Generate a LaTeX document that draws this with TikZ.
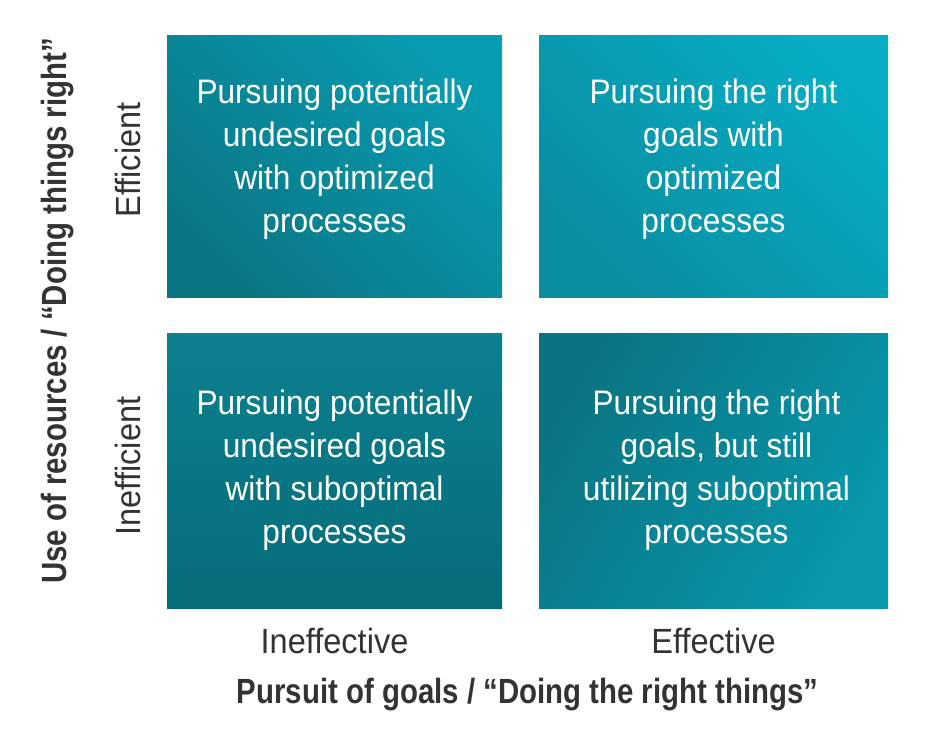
\documentclass[tikz,border=0pt]{standalone}
\usepackage{fontspec}
\setmainfont[FakeStretch=0.93]{Liberation Sans}
\newfontfamily\boldcond[FakeStretch=0.84]{Liberation Sans Bold}
\definecolor{txt}{HTML}{333333}
\definecolor{tlA}{HTML}{0A7684}
\definecolor{tlB}{HTML}{089CB2}
\definecolor{trA}{HTML}{0A8DA1}
\definecolor{trB}{HTML}{06ADC4}
\definecolor{blA}{HTML}{0B808F}
\definecolor{blB}{HTML}{066C7A}
\definecolor{brA}{HTML}{0A7482}
\definecolor{brB}{HTML}{0898AC}
\tikzset{
  quad/.style={inner sep=0pt, shading=axis},
  quadtext/.style={inner sep=0pt, align=center, text=white,
    font=\fontsize{34}{43}\selectfont},
  axlab/.style={text=txt, font=\fontsize{35}{40}\selectfont, inner sep=0pt},
  axtitle/.style={text=txt, font=\fontsize{35}{40}\selectfont\boldcond, inner sep=0pt},
}
\begin{document}
\begin{tikzpicture}[x=1pt,y=-1pt]
\useasboundingbox[fill=white] (0,0) rectangle (930,750);
\node[quad, minimum width=335pt, minimum height=262pt,
  left color=tlA, right color=tlB, shading angle=135] (tl) at (334.5,166) {};
\node[quad, minimum width=349pt, minimum height=262pt,
  left color=trA, right color=trB, shading angle=135] (tr) at (713.5,166) {};
\node[quad, minimum width=335pt, minimum height=275pt,
  top color=blA, bottom color=blB] (bl) at (334.5,470.5) {};
\node[quad, minimum width=349pt, minimum height=275pt,
  left color=brA, right color=brB, shading angle=60] (br) at (713.5,470.5) {};
\node[quadtext] (tlt) at ([yshift=7pt]tl.center)
  {Pursuing potentially\\undesired goals\\with optimized\\processes};
\node[quadtext] (trt) at ([yshift=7pt]tr.center)
  {Pursuing the right\\goals with\\optimized\\processes};
\node[quadtext] (blt) at (bl.center)
  {Pursuing potentially\\undesired goals\\with suboptimal\\processes};
\node[quadtext] (brt) at ([xshift=3pt]br.center)
  {Pursuing the right\\goals, but still\\utilizing suboptimal\\processes};
\node[axlab, rotate=90] (eff) at (128,160) {Efficient};
\node[axlab, rotate=90] (ineff) at (128,466) {Inefficient};
\node[axtitle, rotate=90] (ytitle) at (58,311) {Use of resources / “Doing things right”};
\node[axlab] (xl) at (334.5,641) {Ineffective};
\node[axlab] (xr) at (713.5,641) {Effective};
\node[axtitle] (xtitle) at (527.5,695) {Pursuit of goals / “Doing the right things”};
\end{tikzpicture}
\end{document}
